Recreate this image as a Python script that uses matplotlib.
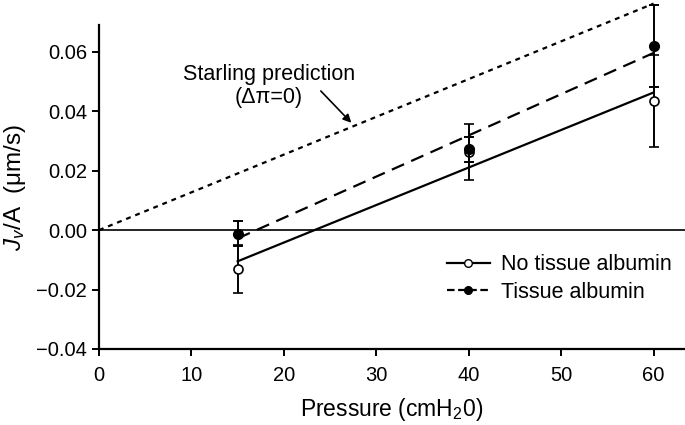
import matplotlib
matplotlib.use("Agg")
import matplotlib.pyplot as plt
from matplotlib.lines import Line2D

plt.rcParams['font.family'] = ['Liberation Sans', 'DejaVu Sans']
plt.rcParams['mathtext.fontset'] = 'custom'
plt.rcParams['mathtext.rm'] = 'Liberation Sans'
plt.rcParams['mathtext.it'] = 'Liberation Sans:italic'

# Data
pressure = [15, 40, 60]
no_albumin = [-0.013, 0.0263, 0.0435]
no_albumin_err = [0.008, 0.0093, 0.0155]
albumin = [-0.0013, 0.0272, 0.0620]
albumin_err = [0.0042, 0.0042, 0.0137]

fit_x = [15, 60]
no_albumin_fit = [-0.0105, 0.0463]
albumin_fit = [-0.0028, 0.0596]

starling_x = [0, 60]
starling_y = [0.0, 0.0762]

x_ticks = [0, 10, 20, 30, 40, 50, 60]
y_ticks = [-0.04, -0.02, 0.00, 0.02, 0.04, 0.06]
y_tick_labels = ['\u22120.04', '\u22120.02', '0.00', '0.02', '0.04', '0.06']

fig = plt.figure(figsize=(6.85, 4.25), dpi=100)
ax = fig.add_axes([99/685, 1-349/425, 586/685, 324/425])

ax.set_xlim(0, 63.4)
ax.set_ylim(-0.04, 0.069)

# zero line
ax.axhline(0, color='black', lw=1.2, zorder=1)

# Starling prediction
ax.plot(starling_x, starling_y, color='black', lw=1.6, linestyle=(0, (2.2, 2.2)),
        clip_on=False, zorder=2)

# fits
ax.plot(fit_x, no_albumin_fit, color='black', lw=1.6, zorder=2)
ax.plot(fit_x, albumin_fit, color='black', lw=1.6, linestyle=(0, (6, 3.5)), zorder=2)

# data
ax.errorbar(pressure, no_albumin, yerr=no_albumin_err, fmt='o', mfc='white', mec='black',
            mew=1.2, ms=6.5, ecolor='black', elinewidth=1.4, capsize=3.8, capthick=1.4,
            color='black', zorder=3, clip_on=False)
ax.errorbar(pressure, albumin, yerr=albumin_err, fmt='o', mfc='black', mec='black',
            ms=7, ecolor='black', elinewidth=1.4, capsize=3.8, capthick=1.4,
            color='black', zorder=4, clip_on=False)

# annotation
ax.text(18.4, 0.0485, 'Starling prediction\n(\u0394\u03c0=0)', ha='center', va='center',
        fontsize=15.5, linespacing=1.15)
ax.annotate('', xy=(27.3, 0.0361), xytext=(24.0, 0.0468),
            arrowprops=dict(arrowstyle='-|>', color='black', lw=1.2,
                            mutation_scale=12, shrinkA=0, shrinkB=0))

# spines
ax.spines['top'].set_visible(False)
ax.spines['right'].set_visible(False)
for s in ['left', 'bottom']:
    ax.spines[s].set_linewidth(1.6)

ax.set_xticks(x_ticks)
ax.set_xticklabels([str(t) for t in x_ticks])
ax.set_yticks(y_ticks)
ax.set_yticklabels(y_tick_labels)
ax.tick_params(axis='both', labelsize=14.5, width=1.4, length=5, direction='out')
ax.tick_params(axis='x', pad=7)

ax.set_xlabel('Pressure (cmH$_2$0)', fontsize=16.5, labelpad=8)
ax.set_ylabel('$J_v$/A  (\u03bcm/s)', fontsize=17.5, labelpad=6)

handles = [
    Line2D([], [], color='black', lw=1.6, marker='o', mfc='white', mec='black', ms=5.5),
    Line2D([], [], color='black', lw=1.6, linestyle=(0, (3.4, 1.6)), marker='o',
           mfc='black', mec='black', ms=5.5),
]
ax.legend(handles, ['No tissue albumin', 'Tissue albumin'], loc='upper left',
          bbox_to_anchor=(0.575, 0.325), frameon=False, fontsize=15.5,
          handlelength=2.0, handletextpad=0.5, labelspacing=0.3, borderpad=0,
          numpoints=1)

fig.savefig('out.png', dpi=100)
